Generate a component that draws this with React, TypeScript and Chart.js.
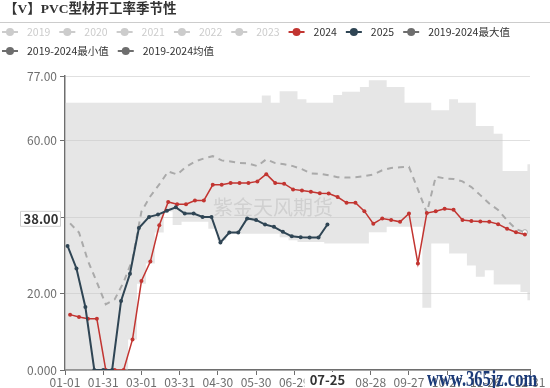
import React, { useEffect, useRef } from 'react';
import { Chart, registerables } from 'chart.js';

Chart.register(...registerables);

// ---------- text ----------
const TITLE = '【V】PVC型材开工率季节性';
const WATERMARK = '紫金天风期货';
const SITE_MARK = 'www.365jz.com';
const LEGEND_NAMES = ['2019', '2020', '2021', '2022', '2023', '2024', '2025', '2019-2024最大值', '2019-2024最小值', '2019-2024均值'];
const LEGEND_ACTIVE = [false, false, false, false, false, true, true, true, true, true];
const LEGEND_COLORS = ['#cccccc', '#cccccc', '#cccccc', '#cccccc', '#cccccc', '#c23531', '#2f4554', '#6e6e6e', '#6e6e6e', '#6e6e6e'];

// ---------- axes ----------
const X_TICK_DATES = ['01-01', '01-31', '03-01', '03-31', '04-30', '05-30', '06-29', '07-29', '08-28', '09-27', '10-27', '11-26', '12-31'];
const Y_TICKS = [0, 20, 40, 60, 77];
const Y_TICK_LABELS = ['0.000', '20.00', '40.00', '60.00', '77.00'];
const POINTER_Y_VALUE = 39.6;
const POINTER_Y_LABEL = '38.00';
const POINTER_X_DATE = '07-25';

// ---------- series (weekly) ----------
const START_2024 = '2024-01-05';
const START_2025 = '2025-01-03';

const SERIES_2024 = [
  14.5, 13.9, 13.4, 13.4, 0, 0, 0, 8.0, 23.3, 28.4,
  37.9, 44.0, 43.4, 43.4, 44.4, 44.4, 48.5, 48.5, 49.0, 49.0,
  49.0, 49.4, 51.3, 49.0, 48.8, 47.3, 47.0, 46.7, 46.3, 46.2,
  45.3, 43.8, 43.8, 41.6, 38.3, 39.7, 39.3, 38.8, 41.0, 27.9,
  41.1, 41.6, 42.2, 42.0, 39.3, 39.0, 38.9, 38.8, 38.2, 37.0,
  36.1, 35.5,
];

const SERIES_2025 = [
  32.5, 26.6, 16.5, 0, 0, 0, 18.1, 25.2, 37.2, 40.1,
  40.7, 41.7, 42.6, 41.0, 41.0, 40.1, 40.1, 33.4, 36.0, 36.0,
  39.7, 39.3, 38.1, 37.5, 36.2, 35.0, 34.8, 34.7, 34.7, 38.1,
];

const SERIES_MEAN = [
  38.4, 36.0, 28.6, 23.0, 17.2, 18.5, 23.0, 29.0, 41.5, 45.5,
  48.6, 52.0, 51.2, 53.2, 54.6, 55.4, 56.0, 54.9, 54.6, 54.2,
  54.1, 53.4, 55.2, 54.2, 53.9, 53.4, 52.6, 51.5, 51.4, 51.0,
  50.5, 50.4, 50.5, 50.8, 51.2, 52.3, 52.9, 53.1, 53.2, 47.3,
  41.2, 50.6, 50.2, 50.0, 49.4, 47.9, 45.8, 43.6, 41.9, 39.2,
  36.9, 36.1,
];

// band: first value is at 01-01, last at 12-31, the rest on the weekly dates
const SERIES_MAX = [
  70.0,
  70.0, 70.0, 70.0, 70.0, 70.0, 70.0, 70.0, 70.0, 70.0, 70.0,
  70.0, 70.0, 70.0, 70.0, 70.0, 70.0, 70.0, 70.0, 70.0, 70.0,
  70.0, 70.0, 71.9, 70.0, 73.0, 73.0, 70.9, 70.0, 70.0, 70.0,
  72.0, 72.9, 72.9, 74.1, 75.9, 75.9, 74.1, 74.1, 70.0, 70.0,
  70.0, 68.0, 68.0, 70.9, 70.0, 70.0, 63.9, 63.9, 61.9, 52.1,
  52.1, 52.1,
  53.9,
];

const SERIES_MIN = [
  0,
  0, 0, 0, 0, 0, 0, 0, 8.0, 22.6, 27.9,
  36.0, 41.5, 38.0, 38.8, 38.8, 38.8, 37.0, 34.0, 35.7, 35.7,
  35.7, 35.7, 35.7, 35.7, 34.8, 34.0, 33.5, 33.5, 33.5, 33.1,
  33.1, 33.1, 33.1, 33.1, 36.1, 36.1, 37.5, 37.5, 37.5, 37.5,
  16.3, 33.1, 33.1, 30.5, 30.5, 27.4, 24.4, 26.1, 22.4, 22.4,
  22.4, 20.4,
  18.3,
];

// ---------- helpers ----------
const DAY_MS = 86400000;
const AXIS_YEAR = 2024; // leap year calendar for MM-DD axis
function mmddToDay(mmdd: string): number {
  const [m, d] = mmdd.split('-').map(Number);
  return (Date.UTC(AXIS_YEAR, m - 1, d) - Date.UTC(AXIS_YEAR, 0, 1)) / DAY_MS;
}
function weeklyDays(start: string, count: number): number[] {
  const [y, m, d] = start.split('-').map(Number);
  const out: number[] = [];
  for (let i = 0; i < count; i++) {
    const dt = new Date(Date.UTC(y, m - 1, d) + i * 7 * DAY_MS);
    out.push((Date.UTC(AXIS_YEAR, dt.getUTCMonth(), dt.getUTCDate()) - Date.UTC(AXIS_YEAR, 0, 1)) / DAY_MS);
  }
  return out;
}
const X_TICK_DAYS = X_TICK_DATES.map(mmddToDay);
const DAYS_2024 = weeklyDays(START_2024, SERIES_2024.length);
const DAYS_2025 = weeklyDays(START_2025, SERIES_2025.length);
const BAND_DAYS = [mmddToDay('01-01'), ...DAYS_2024, mmddToDay('12-31')];
const toPts = (days: number[], vals: number[]) => vals.map((v, i) => ({ x: days[i], y: v }));

const AXIS_COLOR = '#6e6e6e';
const LABEL_FONT = '"Noto Sans CJK SC", "Noto Sans", sans-serif';

const decorPlugin = {
  id: 'decor',
  beforeDatasetsDraw(chart: any) {
    const ctx = chart.ctx as CanvasRenderingContext2D;
    ctx.save();
    ctx.font = `20px ${LABEL_FONT}`;
    ctx.fillStyle = 'rgba(160,160,160,0.42)';
    ctx.textBaseline = 'middle';
    ctx.textAlign = 'left';
    ctx.fillText(WATERMARK, 213, 207);
    ctx.restore();
  },
  afterDraw(chart: any) {
    const ctx = chart.ctx as CanvasRenderingContext2D;
    const { x: xs, y: ys } = chart.scales;
    ctx.save();
    // title
    ctx.font = `bold 13.5px "Liberation Serif", "Noto Sans CJK SC", serif`;
    ctx.fillStyle = '#333333';
    ctx.textBaseline = 'middle';
    ctx.textAlign = 'left';
    ctx.fillText(TITLE, 4, 10);
    ctx.strokeStyle = '#cccccc';
    ctx.lineWidth = 1;
    ctx.beginPath();
    ctx.moveTo(0, 22.5);
    ctx.lineTo(550, 22.5);
    ctx.stroke();

    // legend
    ctx.font = `10.5px ${LABEL_FONT}`;
    let lx = 2;
    let ly = 32;
    LEGEND_NAMES.forEach((name, i) => {
      const w = ctx.measureText(name).width;
      if (lx + 25 + w > 545) {
        lx = 2;
        ly += 19;
      }
      const col = LEGEND_ACTIVE[i] ? LEGEND_COLORS[i] : '#cccccc';
      ctx.strokeStyle = col;
      ctx.fillStyle = col;
      ctx.lineWidth = 2;
      ctx.beginPath();
      ctx.moveTo(lx, ly);
      ctx.lineTo(lx + 16, ly);
      ctx.stroke();
      ctx.beginPath();
      ctx.arc(lx + 8, ly, 4, 0, Math.PI * 2);
      ctx.fill();
      ctx.fillStyle = LEGEND_ACTIVE[i] ? '#333333' : '#cccccc';
      ctx.fillText(name, lx + 25, ly);
      lx += 25 + w + 9;
    });

    // y axis pointer label
    const py = ys.getPixelForValue(POINTER_Y_VALUE);
    ctx.fillStyle = '#ffffff';
    ctx.strokeStyle = '#d0d0d0';
    ctx.lineWidth = 1;
    ctx.beginPath();
    ctx.rect(20.5, py - 7.5, 40, 15);
    ctx.fill();
    ctx.stroke();
    ctx.font = `bold 13px ${LABEL_FONT}`;
    ctx.fillStyle = '#333333';
    ctx.textAlign = 'center';
    ctx.fillText(POINTER_Y_LABEL, 41, py);

    // x axis pointer label
    const px = xs.getPixelForValue(mmddToDay(POINTER_X_DATE));
    ctx.fillStyle = '#ffffff';
    ctx.fillRect(px - 23, 372, 46, 16);
    ctx.fillStyle = '#333333';
    ctx.fillText(POINTER_X_DATE, px, 380);

    // site mark
    ctx.textAlign = 'left';
    ctx.textBaseline = 'alphabetic';
    ctx.fillStyle = '#1b3a78';
    ctx.font = 'bold 19px "Liberation Serif", serif';
    ctx.translate(427, 386);
    ctx.scale(0.87, 1.2);
    ctx.fillText(SITE_MARK, 0, 0);
    ctx.restore();
  },
};

export default function App() {
  const ref = useRef<HTMLCanvasElement>(null);
  useEffect(() => {
    const canvas = ref.current;
    if (!canvas) return;
    const meanRadius = SERIES_MEAN.map((_, i) => (i === SERIES_MEAN.length - 1 ? 2.5 : 0));
    const chart = new Chart(canvas, {
      type: 'line',
      data: {
        datasets: [
          {
            label: LEGEND_NAMES[7],
            data: toPts(BAND_DAYS, SERIES_MAX),
            stepped: 'middle',
            borderWidth: 0,
            borderColor: 'rgba(0,0,0,0)',
            backgroundColor: 'rgba(200,200,200,0.45)',
            pointRadius: 0,
            fill: 1,
            order: 10,
          },
          {
            label: LEGEND_NAMES[8],
            data: toPts(BAND_DAYS, SERIES_MIN),
            stepped: 'middle',
            borderWidth: 0,
            borderColor: 'rgba(0,0,0,0)',
            pointRadius: 0,
            fill: false,
            order: 9,
          },
          {
            label: LEGEND_NAMES[9],
            data: toPts(DAYS_2024, SERIES_MEAN),
            borderColor: '#aaaaaa',
            borderWidth: 2,
            borderDash: [6, 5],
            pointRadius: meanRadius,
            pointBackgroundColor: '#ffffff',
            pointBorderColor: '#aaaaaa',
            pointBorderWidth: 1,
            fill: false,
            order: 5,
          },
          {
            label: LEGEND_NAMES[5],
            data: toPts(DAYS_2024, SERIES_2024),
            borderColor: '#c23531',
            backgroundColor: '#c23531',
            borderWidth: 1.5,
            pointRadius: 2,
            pointBorderWidth: 0,
            fill: false,
            order: 2,
          },
          {
            label: LEGEND_NAMES[6],
            data: toPts(DAYS_2025, SERIES_2025),
            borderColor: '#2f4554',
            backgroundColor: '#2f4554',
            borderWidth: 2,
            pointRadius: 2,
            pointBorderWidth: 0,
            fill: false,
            order: 1,
          },
        ],
      },
      options: {
        responsive: false,
        animation: false,
        events: [],
        layout: { padding: { top: 76, right: 20, left: 0, bottom: 0 } },
        plugins: {
          legend: { display: false },
          title: { display: false },
          tooltip: { enabled: false },
        },
        scales: {
          x: {
            type: 'linear',
            min: X_TICK_DAYS[0],
            max: X_TICK_DAYS[X_TICK_DAYS.length - 1],
            afterBuildTicks: (s: any) => {
              s.ticks = X_TICK_DAYS.map((v) => ({ value: v }));
            },
            afterFit: (s: any) => {
              s.height = 18;
            },
            ticks: {
              autoSkip: false,
              maxRotation: 0,
              padding: 0,
              color: AXIS_COLOR,
              font: { family: LABEL_FONT, size: 12 },
              callback: (_v: any, i: number) => X_TICK_DATES[i],
            },
            grid: { drawOnChartArea: false, drawTicks: true, tickLength: 5, tickColor: AXIS_COLOR, tickWidth: 1 },
            border: { color: AXIS_COLOR, width: 1.5 },
          },
          y: {
            min: Y_TICKS[0],
            max: Y_TICKS[Y_TICKS.length - 1],
            afterBuildTicks: (s: any) => {
              s.ticks = Y_TICKS.map((v) => ({ value: v }));
            },
            afterFit: (s: any) => {
              s.width = 65;
            },
            ticks: {
              padding: 3,
              color: AXIS_COLOR,
              font: { family: LABEL_FONT, size: 12 },
              callback: (_v: any, i: number) => Y_TICK_LABELS[i],
            },
            grid: { color: '#e0e0e0', drawTicks: true, tickLength: 5, tickColor: AXIS_COLOR, tickWidth: 1 },
            border: { color: AXIS_COLOR, width: 1.5 },
          },
        },
      },
      plugins: [decorPlugin],
    } as any);
    return () => chart.destroy();
  }, []);
  return (
    <div style={{ position: 'absolute', left: 0, top: 0, width: 550, height: 388, background: '#ffffff' }}>
      <canvas ref={ref} width={550} height={388} style={{ width: 550, height: 388, display: 'block' }} />
    </div>
  );
}
